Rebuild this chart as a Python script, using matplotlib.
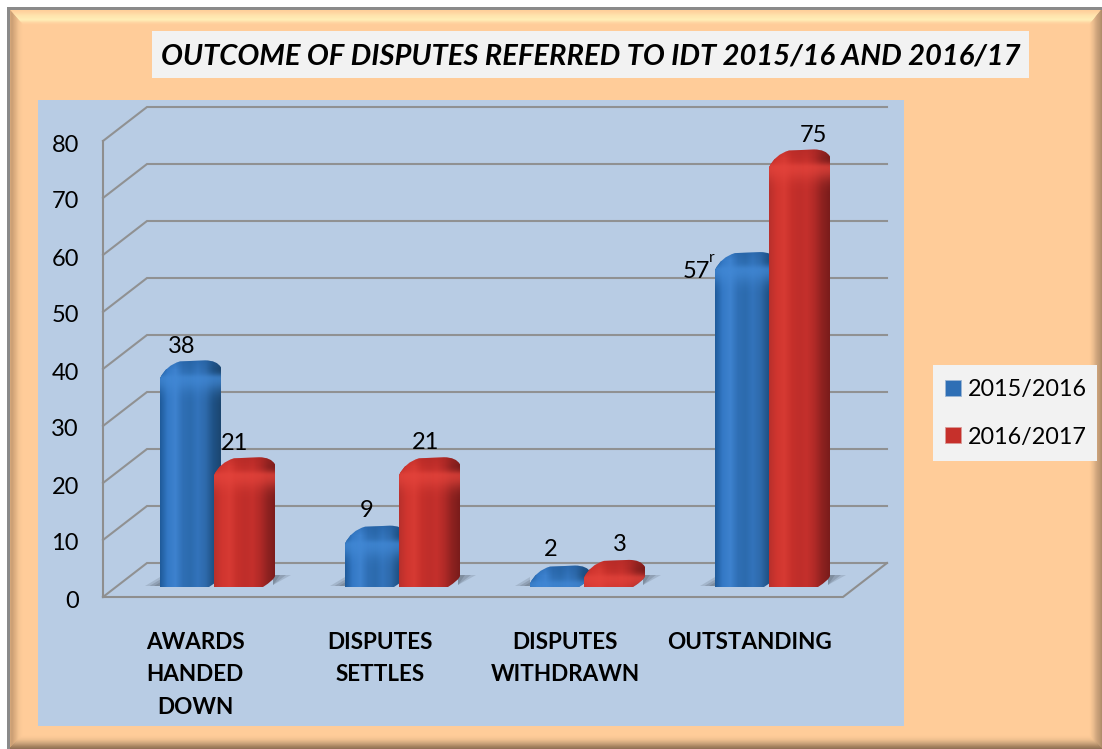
import numpy as np
import matplotlib
matplotlib.use("Agg")
import matplotlib.pyplot as plt
from matplotlib.patches import Polygon, PathPatch, Rectangle, Patch
from matplotlib.path import Path
from matplotlib.transforms import ScaledTranslation
from matplotlib.colors import LinearSegmentedColormap, to_rgb

plt.rcParams['font.family'] = ['Lato', 'DejaVu Sans']

categories = ["AWARDS\nHANDED\nDOWN", "DISPUTES\nSETTLES", "DISPUTES\nWITHDRAWN", "OUTSTANDING"]
series_names = ["2015/2016", "2016/2017"]
values_2015 = [38, 9, 2, 57]
values_2016 = [21, 21, 3, 75]
labels_2015 = ["38", "9", "2", "57"]
labels_2016 = ["21", "21", "3", "75"]
y_ticks = [0, 10, 20, 30, 40, 50, 60, 70, 80]
title = "OUTCOME OF DISPUTES REFERRED TO IDT 2015/16 AND 2016/17"

W, H = 1102, 749
fig = plt.figure(figsize=(W / 100, H / 100), dpi=100, facecolor="white")

# ---------- background frame, in pixel coordinates ----------
bg = fig.add_axes([0, 0, 1, 1], zorder=0)
bg.set_xlim(0, W); bg.set_ylim(H, 0); bg.axis("off")
L, T, R, B = 9, 9, 1102, 749
bg.add_patch(Rectangle((L, T), R - L, B - T, fc="#FFCC99", ec="none"))

def band(outer, inner, stops, n=14):
    cols = np.array([to_rgb(c) for c in stops])
    pos = np.linspace(0, 1, len(stops))
    outer, inner = np.array(outer, float), np.array(inner, float)
    for i in range(n):
        a, b = i / n, (i + 1) / n
        p0 = outer + (inner - outer) * a
        p1 = outer + (inner - outer) * b
        mid = (a + b) / 2
        col = [np.interp(mid, pos, cols[:, k]) for k in range(3)]
        bg.add_patch(Polygon([p0[0], p0[1], p1[1], p1[0]], closed=True, fc=col, ec=col, lw=0.3))

oTL, oTR, oBR, oBL = (L, T), (R, T), (R, B), (L, B)
iTL, iTR, iBR, iBL = (L + 13, T + 15), (R - 12, T + 15), (R - 12, B - 13), (L + 13, B - 13)
band([oTL, oTR], [iTL, iTR], ["#FFCB95", "#FFD8A3", "#FFE9B2", "#FFF2BA", "#FFCC99"])
band([oBL, oTL], [iBL, iTL], ["#E2B283", "#C79C72", "#DDAE80", "#F3C391", "#FFCC99"])
band([oTR, oBR], [iTR, iBR], ["#A98764", "#C29C76", "#E2B589", "#FFCC99"])
band([oBR, oBL], [iBR, iBL], ["#8A6B52", "#A5825F", "#CDA57C", "#F0C08F", "#FFCC99"])
bg.add_patch(Rectangle((7, 7), R - 7, 2.5, fc="#8A8A8A", ec="none"))
bg.add_patch(Rectangle((7, 7), 2.5, B - 7, fc="#8A8A8A", ec="none"))

# title box and legend box
bg.add_patch(Rectangle((152, 31), 877, 47, fc="#F2F2F2", ec="none"))
bg.add_patch(Rectangle((933, 365), 164, 96, fc="#F2F2F2", ec="none"))
fig.text(590.5 / W, 1 - 57 / H, title, ha="center", va="center", fontsize=21,
         fontweight="bold", fontstyle="italic", color="black", zorder=5)

# ---------- plot area ----------
PX, PY, PW, PH = 38, 100, 866, 626
UX, UY = 185.0, 5.7          # pixels per category, pixels per value unit
X0, Y0 = 215.0, 586.0        # pixel of category 0 and of value 0
ax = fig.add_axes([PX / W, 1 - (PY + PH) / H, PW / W, PH / H], zorder=2)
ax.set_facecolor("#B8CCE4")
for s in ax.spines.values():
    s.set_visible(False)

px = lambda p: p / UX
py = lambda p: p / UY

# walls: back wall, side wall and floor
GRID = "#8E8E8E"
front_x, back_x, end_x, fend_x = (103 - X0) / UX, (147 - X0) / UX, (887 - X0) / UX, (843 - X0) / UX
fr, bk = py(-11), py(23)
for v in y_ticks:
    ax.plot([front_x, back_x, end_x], [v + fr, v + bk, v + bk], color=GRID, lw=1.5, zorder=1,
            solid_joinstyle="miter", alpha=0.95)
ax.plot([front_x, front_x], [y_ticks[0] + fr, y_ticks[-1] + fr], color=GRID, lw=1.5, zorder=1)
ax.plot([front_x, fend_x, end_x], [fr, fr, bk], color=GRID, lw=1.5, zorder=1)

# ---------- bars ----------
n = np.arange(len(categories))
BW = px(49)
x_a = n - px(55)
x_b = n - px(1)
bars_a = ax.bar(x_a, values_2015, BW, align="edge", color="#2F6FB5", zorder=3, label=series_names[0])
bars_b = ax.bar(x_b, values_2016, BW, align="edge", color="#C6302B", zorder=5, label=series_names[1])

blue = LinearSegmentedColormap.from_list("b", ["#1F5A9A", "#3479C6", "#3E82CE", "#2F6FB5", "#2C6BAE",
                                               "#3373BB", "#2E6AAB", "#1F5286", "#1B4670"])
red = LinearSegmentedColormap.from_list("r", ["#B8302C", "#D0352F", "#D63A33", "#C6302B", "#BF2E2A",
                                              "#C4302C", "#B02A27", "#8E2220", "#7A1C1B"])
grad = np.linspace(0, 1, 128).reshape(1, -1)

def silhouette(x, v):
    top = v
    xr, xf = x + BW + px(12), x + BW
    pts = [(x, -py(1)), (x, top - py(9)),
           (x + px(6), top + py(4)), (x + px(20), top + py(8)),
           (xf - px(4), top + py(9)), (xf + px(8), top + py(9)), (xr, top + py(2)), (xr, top - py(4)),
           (xr, py(10)), (xr - px(1), py(6)), (xf, -py(1)), (x, -py(1))]
    codes = [Path.MOVETO, Path.LINETO, Path.CURVE3, Path.CURVE3, Path.LINETO,
             Path.CURVE3, Path.CURVE3, Path.LINETO, Path.LINETO, Path.CURVE3, Path.CURVE3, Path.CLOSEPOLY]
    return Path(pts, codes)

def shadow(xa, xb, h, side):
    # soft floor shadow built from nested translucent wedges
    for k, a in zip((1.0, 0.7, 0.4), (0.18, 0.22, 0.25)):
        if side == "left":
            pts = [(xb, py(0)), (xb, py(h * k)), (xb - (xb - xa) * k, py(0))]
        else:
            pts = [(xa, py(1)), (xa, py(h)), (xa + (xb - xa) * k, py(h))]
        ax.add_patch(Polygon(pts, closed=True, fc="#4A5560", alpha=a, ec="none", zorder=2))

def draw_bar(bar, cmap, bright, dark, z):
    x, v = bar.get_x(), bar.get_height()
    shape = PathPatch(silhouette(x, v), fc="none", ec="none", transform=ax.transData)
    ax.add_patch(shape)
    bar.set_clip_path(shape)
    im = ax.imshow(grad, cmap=cmap, aspect="auto", zorder=z, interpolation="bilinear",
                   extent=(x, x + BW + px(12), -py(2), v + py(10)))
    im.set_clip_path(shape)
    # cap shading: darker far edge, soft bright rim fading downward
    rows = 70                     # one row per pixel, from v+10 px down to v-60 px
    cap = np.zeros((rows, 2, 4))
    for r in range(rows):
        d = 10 - r                # pixels above the value level
        if d > 0:
            cap[r, :, :3] = to_rgb(dark)
            cap[r, :, 3] = 0.4 * d / 10
        else:
            cap[r, :, :3] = to_rgb(bright)
            sigma = 5 if d > -9 else 13
            cap[r, :, 3] = 0.75 * np.exp(-((d + 9) / sigma) ** 2)
    im2 = ax.imshow(cap, aspect="auto", zorder=z + 0.1, interpolation="bilinear",
                    extent=(x, x + BW + px(12), v - py(60), v + py(10)))
    im2.set_clip_path(shape)

for b in bars_a:
    draw_bar(b, blue, "#4289D6", "#1F5A9A", 3.1)
    shadow(b.get_x() - px(15), b.get_x(), 9, "left")
for b in bars_b:
    draw_bar(b, red, "#E5443C", "#A82623", 5.1)
    xr = b.get_x() + BW + px(12)
    shadow(xr - px(2), xr + px(16), 11, "right")

ax.set_xlim((PX - X0) / UX, (PX + PW - X0) / UX)
ax.set_ylim((Y0 - (PY + PH)) / UY, (Y0 - PY) / UY)

# ---------- data labels ----------
FS = 17
lab_off_a = [(22, 23), (22, 24), (21, 25), (-19, -10)]
lab_off_b = [(21, 23), (27, 24), (36, 24), (44, 23)]
for bars, labs, offs in ((bars_a, labels_2015, lab_off_a), (bars_b, labels_2016, lab_off_b)):
    for b, t, (dx, dy) in zip(bars, labs, offs):
        ax.text(b.get_x() + px(dx), b.get_height() + py(dy), t, ha="center", va="center",
                fontsize=FS, color="black", zorder=8)
b57 = bars_a[3]
ax.text(b57.get_x() + px(-3), b57.get_height() + py(3), "r", ha="center", va="center",
        fontsize=11, color="black", zorder=8)

# ---------- ticks ----------
ax.set_yticks(y_ticks, [str(v) for v in y_ticks])
ax.tick_params(axis="y", length=0, pad=-29.5, labelsize=FS, labelcolor="black")
for lbl in ax.get_yticklabels():
    lbl.set_transform(lbl.get_transform() + ScaledTranslation(0, -13 / 100, fig.dpi_scale_trans))
ax.set_xticks(n, categories)
ax.tick_params(axis="x", length=0, pad=-68, labelsize=16.2)
for lbl in ax.get_xticklabels():
    lbl.set_fontweight("bold")
    lbl.set_linespacing(1.69)
    lbl.set_transform(lbl.get_transform() + ScaledTranslation(-20 / 100, 0, fig.dpi_scale_trans))

# ---------- legend ----------
handles = [Patch(fc="#2F6FB5", ec="#9DB7D5", lw=0.6), Patch(fc="#C6302B", ec="#D99A97", lw=0.6)]
leg = fig.legend(handles, series_names, loc="upper left", bbox_to_anchor=(945 / W, 1 - 379 / H),
                 bbox_transform=fig.transFigure, frameon=False, fontsize=16.8, borderpad=0,
                 borderaxespad=0, handlelength=0.68, handleheight=0.68, handletextpad=0.3,
                 labelspacing=1.14)
leg.set_zorder(6)

fig.savefig("out.png", dpi=100, facecolor="white")
